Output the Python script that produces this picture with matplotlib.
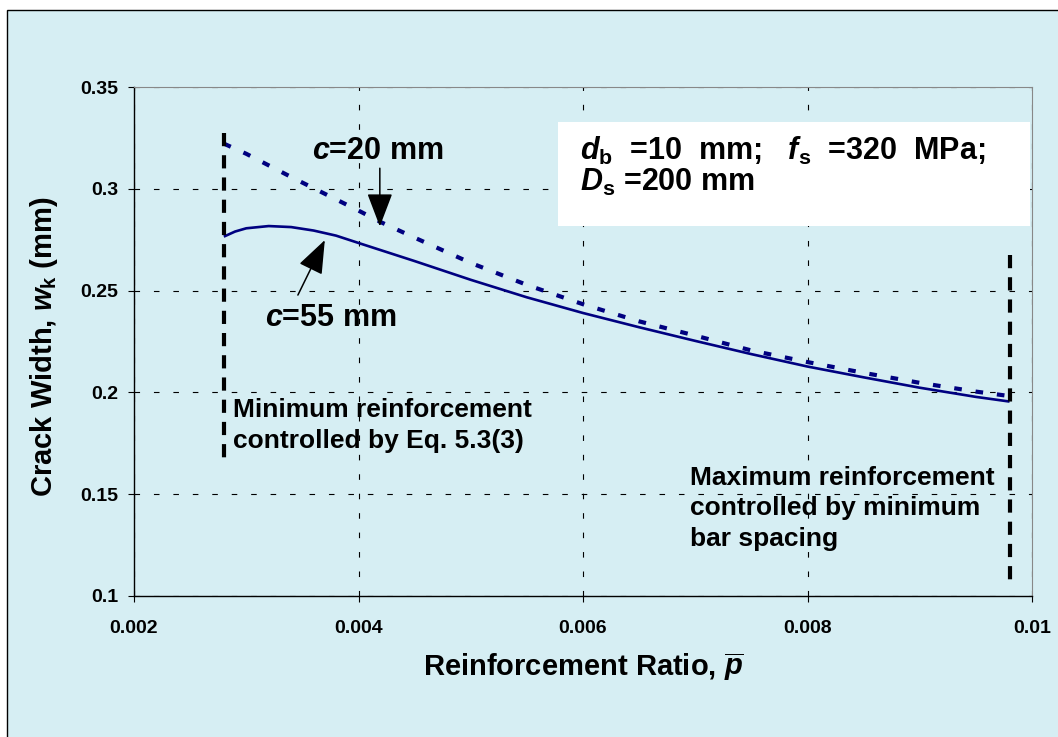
import matplotlib
matplotlib.use("Agg")
import matplotlib.pyplot as plt
from matplotlib.patches import Rectangle

# crack width vs reinforcement ratio, two cover values
ratio_c55 = [0.0028, 0.0029, 0.0030, 0.0032, 0.0034, 0.0036, 0.0038, 0.0040, 0.0045, 0.0050,
             0.0055, 0.0060, 0.0065, 0.0070, 0.0075, 0.0080, 0.0085, 0.0090, 0.0095, 0.0098]
width_c55 = [0.2765, 0.2790, 0.2806, 0.2817, 0.2812, 0.2795, 0.2770, 0.2734, 0.2645, 0.2553,
             0.2467, 0.2390, 0.2320, 0.2253, 0.2188, 0.2127, 0.2074, 0.2023, 0.1978, 0.1955]

ratio_c20 = [0.0028, 0.0030, 0.0032, 0.0034, 0.0036, 0.0038, 0.0040, 0.0042, 0.0045, 0.0050,
             0.0055, 0.0060, 0.0065, 0.0070, 0.0075, 0.0080, 0.0085, 0.0090, 0.0095, 0.0098]
width_c20 = [0.3222, 0.3172, 0.3115, 0.3058, 0.3003, 0.2948, 0.2893, 0.2836, 0.2760, 0.2636,
             0.2528, 0.2433, 0.2349, 0.2279, 0.2206, 0.2149, 0.2096, 0.2047, 0.2004, 0.1982]

# limits of reinforcement (vertical markers)
limit_ratios = [0.0028, 0.0098]
limit_lows = [0.167, 0.108]
limit_highs = [0.3276, 0.2675]

xticks = [0.002, 0.004, 0.006, 0.008, 0.010]
xtick_labels = ["0.002", "0.004", "0.006", "0.008", "0.01"]
yticks = [0.10, 0.15, 0.20, 0.25, 0.30, 0.35]
ytick_labels = ["0.1", "0.15", "0.2", "0.25", "0.3", "0.35"]

plt.rcParams["font.family"] = ["Liberation Sans", "DejaVu Sans"]
plt.rcParams["font.weight"] = "bold"
plt.rcParams["mathtext.fontset"] = "custom"
plt.rcParams["mathtext.rm"] = "Liberation Sans:bold"
plt.rcParams["mathtext.it"] = "Liberation Sans:italic:bold"
plt.rcParams["mathtext.bf"] = "Liberation Sans:bold"
plt.rcParams["lines.scale_dashes"] = False

bg = "#D6EEF3"
navy = "#000080"

fig = plt.figure(figsize=(10.58, 7.37), dpi=100)
fig.patch.set_facecolor("white")
fig.patches.append(Rectangle((7 / 1058, -0.1), 1.2, 1.1 - 10 / 737, transform=fig.transFigure,
                             facecolor=bg, edgecolor="black", linewidth=1.0, zorder=-10))

ax = fig.add_axes([134 / 1058, 1 - 596 / 737, 898 / 1058, 509 / 737])
ax.set_zorder(1)
ax.set_facecolor(bg)
ax.set_xlim(0.002, 0.010)
ax.set_ylim(0.10, 0.35)

ax.grid(True, color="black", linestyle=(0, (4, 10)), linewidth=0.8)
ax.set_axisbelow(True)
for side in ["top", "right"]:
    ax.spines[side].set_color("#888888")
for side in ["left", "bottom"]:
    ax.spines[side].set_color("black")
    ax.spines[side].set_linewidth(1.0)

ax.set_xticks(xticks)
ax.set_xticklabels(xtick_labels)
ax.set_yticks(yticks)
ax.set_yticklabels(ytick_labels)
ax.tick_params(axis="both", direction="out", length=4.5, width=0.8, labelsize=14)
ax.tick_params(axis="x", pad=13)
ax.tick_params(axis="y", pad=7)

ax.plot(ratio_c55, width_c55, color=navy, linewidth=1.9, solid_capstyle="butt")
ax.plot(ratio_c20, width_c20, color=navy, linewidth=3.0, linestyle=(0, (5.5, 10)))

for xr, lo, hi in zip(limit_ratios, limit_lows, limit_highs):
    ax.plot([xr, xr], [hi, lo], color="black", linewidth=3.0, linestyle=(0, (9.5, 6.5)))

# parameter box (first line is spread out to the box width)
ax.add_patch(Rectangle((0.4722, 0.727), 0.5256, 0.204, transform=ax.transAxes,
                       facecolor="white", edgecolor="none", zorder=3))
ax.text(0.4967, 0.8566, r"$d_\mathrm{b}$  =10  mm;   $f_\mathrm{s}$  =320  MPa;", transform=ax.transAxes,
        fontsize=22, fontweight="bold", va="baseline", ha="left", zorder=4)
ax.text(0.4967, 0.7963, r"$D_\mathrm{s}$ =200 mm", transform=ax.transAxes,
        fontsize=22, fontweight="bold", va="baseline", ha="left", zorder=4)

# curve labels with arrows
ax.text(0.003582, 0.3145, r"$c$=20 mm", fontsize=22, fontweight="bold", ha="left", va="baseline")
ax.annotate("", xy=(0.00419, 0.2815), xytext=(0.00419, 0.3101),
            arrowprops=dict(arrowstyle="-|>,head_length=1.05,head_width=0.4", mutation_scale=20,
                            color="black", linewidth=1.1, shrinkA=0, shrinkB=0))
ax.text(0.003167, 0.2326, r"$c$=55 mm", fontsize=22, fontweight="bold", ha="left", va="baseline")
ax.annotate("", xy=(0.00370, 0.2748), xytext=(0.00346, 0.2478),
            arrowprops=dict(arrowstyle="-|>,head_length=1.05,head_width=0.4", mutation_scale=20,
                            color="black", linewidth=1.1, shrinkA=0, shrinkB=0))

ax.text(0.002882, 0.1837, "Minimum reinforcement\ncontrolled by Eq. 5.3(3)", fontsize=19,
        fontweight="bold", ha="left", va="center", linespacing=1.36)
ax.text(0.006953, 0.1432, "Maximum reinforcement\ncontrolled by minimum\nbar spacing", fontsize=19,
        fontweight="bold", ha="left", va="center", linespacing=1.34)

ax.set_xlabel(r"Reinforcement Ratio, $\overline{p}$", fontsize=21, fontweight="bold")
ax.xaxis.set_label_coords(0.5, -0.139)
ax.xaxis.label.set_va("center")
ax.set_ylabel(r"Crack Width, $w_\mathrm{k}$ (mm)", fontsize=21, fontweight="bold")
ax.yaxis.set_label_coords(-0.100, 0.489)
ax.yaxis.label.set_va("center")

fig.savefig("out.png", dpi=100, facecolor=fig.get_facecolor())
